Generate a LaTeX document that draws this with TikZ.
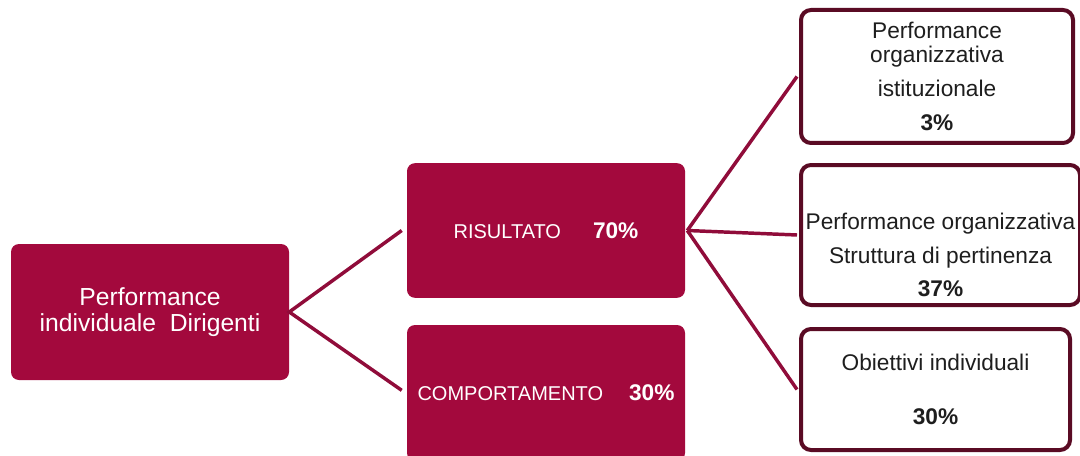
\documentclass[tikz,border=0pt]{standalone}
\usepackage{fontspec}
\setmainfont{Liberation Sans}
\definecolor{crimson}{HTML}{A3093D}
\definecolor{wine}{HTML}{5A0B24}
\definecolor{wire}{HTML}{900C3A}
\definecolor{ink}{HTML}{1E1E1E}

\begin{document}
\begin{tikzpicture}[x=0.75pt, y=-0.75pt,
  fullbox/.style={fill=crimson, rounded corners=6pt, inner sep=0pt, text=white, align=center},
  linebox/.style={draw=wine, line width=3pt, fill=white, rounded corners=7.5pt, inner sep=0pt, text=ink, align=center},
  link/.style={draw=wire, line width=2.6pt}]
  \useasboundingbox (0,0) rectangle (1080,456);
  % left and middle boxes
  \node[fullbox, minimum width=208.5pt, minimum height=102pt, font={\fontsize{18.5}{20}\selectfont}]
    (perf) at (150,312) {Performance\\individuale\ \ Dirigenti};
  \node[fullbox, minimum width=208.5pt, minimum height=101pt, font={\fontsize{15}{18}\selectfont}]
    (ris) at (546,230.5) {RISULTATO\hspace{24pt}{\fontsize{17}{18}\selectfont\bfseries 70\%}};
  \node[fullbox, minimum width=208.5pt, minimum height=102pt, font={\fontsize{15}{18}\selectfont}]
    (comp) at (546,393) {COMPORTAMENTO\hspace{19.5pt}{\fontsize{17}{18}\selectfont\bfseries 30\%}};
  % right boxes
  \node[linebox, minimum width=204pt, minimum height=99.75pt, font={\fontsize{17}{18}\selectfont}]
    (inst) at (937,76.5) {Performance\\organizzativa\\[7.5pt]istituzionale\\[7.5pt]\textbf{3\%}};
  \node[linebox, minimum width=209.25pt, minimum height=105pt, font={\fontsize{17}{25}\selectfont}]
    (strut) at (940.5,235) {\strut\\Performance organizzativa\\Struttura di pertinenza\\\textbf{37\%}};
  \node[linebox, minimum width=201.75pt, minimum height=90.75pt, font={\fontsize{17}{20.25}\selectfont}]
    (obj) at (935.5,389.5) {Obiettivi individuali\\[20.25pt]\textbf{30\%}};
  % connectors
  \draw[link] ([xshift=-3.75pt]ris.west) -- (perf.east) -- ([xshift=-3.75pt,yshift=2pt]comp.west);
  \foreach \b in {inst, strut, obj} { \draw[link] ([xshift=1.5pt]ris.east) -- ([xshift=-1.5pt]\b.west); }
\end{tikzpicture}
\end{document}
